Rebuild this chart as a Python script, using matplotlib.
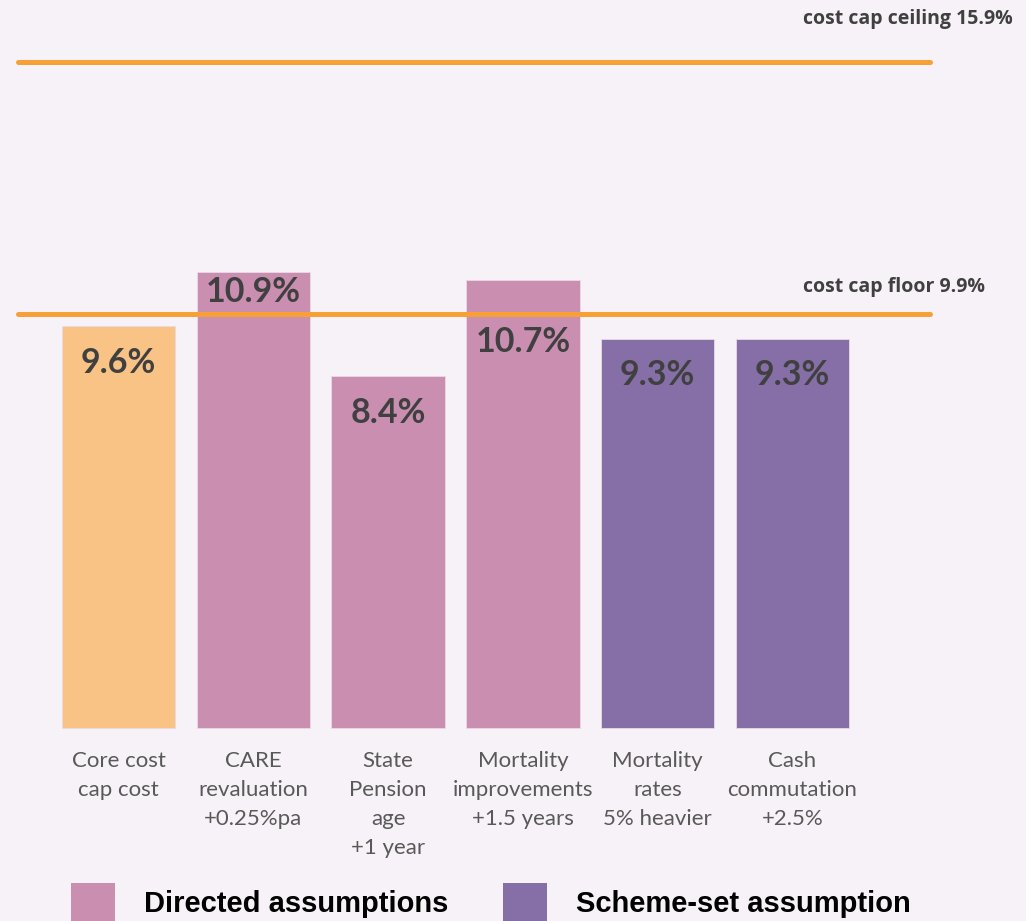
import matplotlib
matplotlib.use("Agg")
import matplotlib.pyplot as plt
from matplotlib.patches import Patch

# ---- data ----
categories = ["Core cost\ncap cost", "CARE\nrevaluation\n+0.25%pa", "State\nPension\nage\n+1 year",
              "Mortality\nimprovements\n+1.5 years", "Mortality\nrates\n5% heavier",
              "Cash\ncommutation\n+2.5%"]
values = [9.6, 10.9, 8.4, 10.7, 9.3, 9.3]
value_labels = ["9.6%", "10.9%", "8.4%", "10.7%", "9.3%", "9.3%"]
groups = ["core", "directed", "directed", "directed", "scheme", "scheme"]
cap_floor = 9.9
cap_ceiling = 15.9
floor_label = "cost cap floor 9.9%"
ceiling_label = "cost cap ceiling 15.9%"
legend_labels = ["Directed assumptions", "Scheme-set assumption"]

# ---- style ----
BG = "#F7F2F7"
colors = {"core": "#F8C384", "directed": "#C98EB0", "scheme": "#866EA6"}
LINE = "#F7A035"
label_offsets_px = [37, 20, 37, 62, 36, 36]

fig = plt.figure(figsize=(10.26, 9.21), dpi=100, facecolor=BG)
ax = fig.add_axes([0, 0, 1, 1])
ax.set_facecolor(BG)
ax.set_xlim(-0.879, 6.732)
ax.set_ylim(-4.61, 17.39)
ax.axis("off")

x = list(range(len(values)))
bars = ax.bar(x, values, width=0.84, color=[colors[g] for g in groups],
              edgecolor="#EBD9E8", linewidth=0.6, zorder=2)

for y in (cap_floor, cap_ceiling):
    ax.plot([-0.746, 6.02], [y, y], color=LINE, lw=3.6, solid_capstyle="round", zorder=3)

for xi, v, lab, off in zip(x, values, value_labels, label_offsets_px):
    ax.annotate(lab, xy=(xi, v), xytext=(0, -off), textcoords="offset pixels",
                ha="center", va="center", fontsize=24.5, fontweight="bold",
                color="#404040", family="Lato", zorder=4)

for xi, cat in zip(x, categories):
    ax.annotate(cat, xy=(xi, 0), xytext=(0, -23), textcoords="offset pixels",
                ha="center", va="top", fontsize=16, color="#595959",
                family="Lato", linespacing=1.57)

ax.annotate(ceiling_label, xy=(6.732, cap_ceiling), xytext=(-13, 43), textcoords="offset pixels",
            ha="right", va="center", fontsize=14, fontweight="bold", color="#404040",
            family="Open Sans")
ax.annotate(floor_label, xy=(6.02, cap_floor), xytext=(55, 27), textcoords="offset pixels",
            ha="right", va="center", fontsize=14, fontweight="bold", color="#404040",
            family="Open Sans")

handles = [Patch(facecolor=colors["directed"]), Patch(facecolor=colors["scheme"])]
fig.legend(handles, legend_labels, loc="center left", bbox_to_anchor=(71 / 1026, 1 - 903 / 921),
           ncol=2, frameon=False, borderpad=0, borderaxespad=0, handlelength=1.52,
           handleheight=1.75, handletextpad=1.0, columnspacing=1.85,
           prop={"family": "Liberation Sans", "weight": "bold", "size": 21})

fig.savefig("out.png", dpi=100, facecolor=BG)
